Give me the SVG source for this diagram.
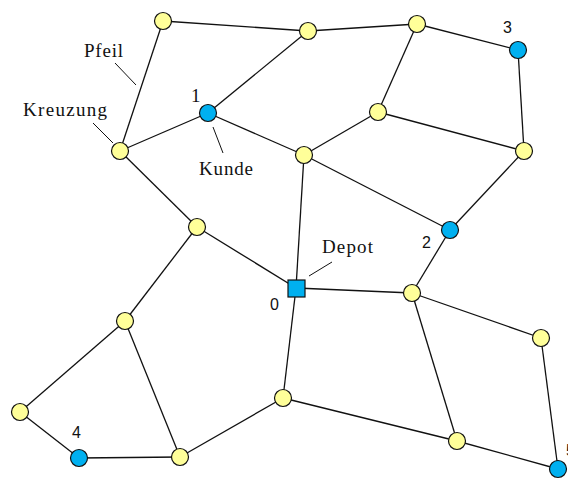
<svg xmlns="http://www.w3.org/2000/svg" width="568" height="480" viewBox="0 0 568 480">
<style>
.e{stroke:#111;stroke-width:1.3;fill:none}
.l{stroke:#111;stroke-width:1;fill:none}
.y{fill:#FFFF99;stroke:#111;stroke-width:1.2}
.b{fill:#00B0F0;stroke:#111;stroke-width:1.2}
.s{font-family:"Liberation Serif","Times New Roman",serif;font-size:19px;fill:#111}
.n{font-family:"Liberation Sans",Arial,sans-serif;font-size:16px;fill:#111}
</style>
<rect width="568" height="480" fill="#fff"/>
<g id="connectors">
<line class="e" x1="163" y1="21" x2="308" y2="31"/>
<line class="e" x1="308" y1="31" x2="417" y2="24"/>
<line class="e" x1="163" y1="21" x2="120" y2="151"/>
<line class="e" x1="308" y1="31" x2="208" y2="113"/>
<line class="e" x1="120" y1="151" x2="208" y2="113"/>
<line class="e" x1="208" y1="113" x2="304" y2="155"/>
<line class="e" x1="417" y1="24" x2="518" y2="50"/>
<line class="e" x1="417" y1="24" x2="378" y2="112"/>
<line class="e" x1="378" y1="112" x2="304" y2="155"/>
<line class="e" x1="378" y1="112" x2="524" y2="151"/>
<line class="e" x1="518" y1="50" x2="524" y2="151"/>
<line class="e" x1="304" y1="155" x2="450" y2="230"/>
<line class="e" x1="524" y1="151" x2="450" y2="230"/>
<line class="e" x1="304" y1="155" x2="296" y2="288"/>
<line class="e" x1="120" y1="151" x2="197" y2="227"/>
<line class="e" x1="197" y1="227" x2="296" y2="288"/>
<line class="e" x1="197" y1="227" x2="125" y2="321"/>
<line class="e" x1="296" y1="288" x2="412" y2="293"/>
<line class="e" x1="412" y1="293" x2="450" y2="230"/>
<line class="e" x1="296" y1="288" x2="283" y2="398"/>
<line class="e" x1="125" y1="321" x2="20" y2="412"/>
<line class="e" x1="125" y1="321" x2="180" y2="457"/>
<line class="e" x1="20" y1="412" x2="79" y2="458"/>
<line class="e" x1="79" y1="458" x2="180" y2="457"/>
<line class="e" x1="180" y1="457" x2="283" y2="398"/>
<line class="e" x1="283" y1="398" x2="457" y2="441"/>
<line class="e" x1="412" y1="293" x2="457" y2="441"/>
<line class="e" x1="412" y1="293" x2="541" y2="338"/>
<line class="e" x1="541" y1="338" x2="558" y2="469"/>
<line class="e" x1="457" y1="441" x2="558" y2="469"/>
</g>
<g id="leaders">
<line class="l" x1="115" y1="63" x2="136" y2="85"/>
<line class="l" x1="93" y1="123" x2="113" y2="143"/>
<line class="l" x1="213" y1="127" x2="223" y2="153"/>
<line class="l" x1="332" y1="262" x2="309" y2="276"/>
</g>
<g id="nA"><circle class="y" cx="163" cy="21" r="8.5"/></g>
<g id="nB"><circle class="y" cx="308" cy="31" r="8.5"/></g>
<g id="nC"><circle class="y" cx="417" cy="24" r="8.5"/></g>
<g id="n3"><circle class="b" cx="518" cy="50" r="8.5"/><text class="n" x="503" y="33">3</text></g>
<g id="n1"><circle class="b" cx="208" cy="113" r="8.5"/><text class="s" x="191" y="102">1</text></g>
<g id="nKreuzung"><circle class="y" cx="120" cy="151" r="8.5"/></g>
<g id="nD"><circle class="y" cx="378" cy="112" r="8.5"/></g>
<g id="nE"><circle class="y" cx="304" cy="155" r="8.5"/></g>
<g id="nF"><circle class="y" cx="524" cy="151" r="8.5"/></g>
<g id="n2"><circle class="b" cx="450" cy="230" r="8.5"/><text class="n" x="422" y="248">2</text></g>
<g id="nG"><circle class="y" cx="197" cy="227" r="8.5"/></g>
<g id="n0"><rect class="b" x="288" y="280" width="17" height="17"/><text class="n" x="270" y="310">0</text></g>
<g id="nH"><circle class="y" cx="412" cy="293" r="8.5"/></g>
<g id="nI"><circle class="y" cx="125" cy="321" r="8.5"/></g>
<g id="nJ"><circle class="y" cx="541" cy="338" r="8.5"/></g>
<g id="nK"><circle class="y" cx="20" cy="412" r="8.5"/></g>
<g id="nL"><circle class="y" cx="283" cy="398" r="8.5"/></g>
<g id="n4"><circle class="b" cx="79" cy="458" r="8.5"/><text class="n" x="72" y="438">4</text></g>
<g id="nM"><circle class="y" cx="180" cy="457" r="8.5"/></g>
<g id="nN"><circle class="y" cx="457" cy="441" r="8.5"/></g>
<g id="n5"><circle class="b" cx="558" cy="469" r="8.5"/><text class="n" x="566" y="456">5</text></g>
<g id="labels">
<text class="s" x="84" y="57" textLength="39" lengthAdjust="spacing">Pfeil</text>
<text class="s" x="23" y="116" textLength="84" lengthAdjust="spacing">Kreuzung</text>
<text class="s" x="199" y="175" textLength="54" lengthAdjust="spacing">Kunde</text>
<text class="s" x="322" y="253" textLength="51" lengthAdjust="spacing">Depot</text>
</g>
</svg>
